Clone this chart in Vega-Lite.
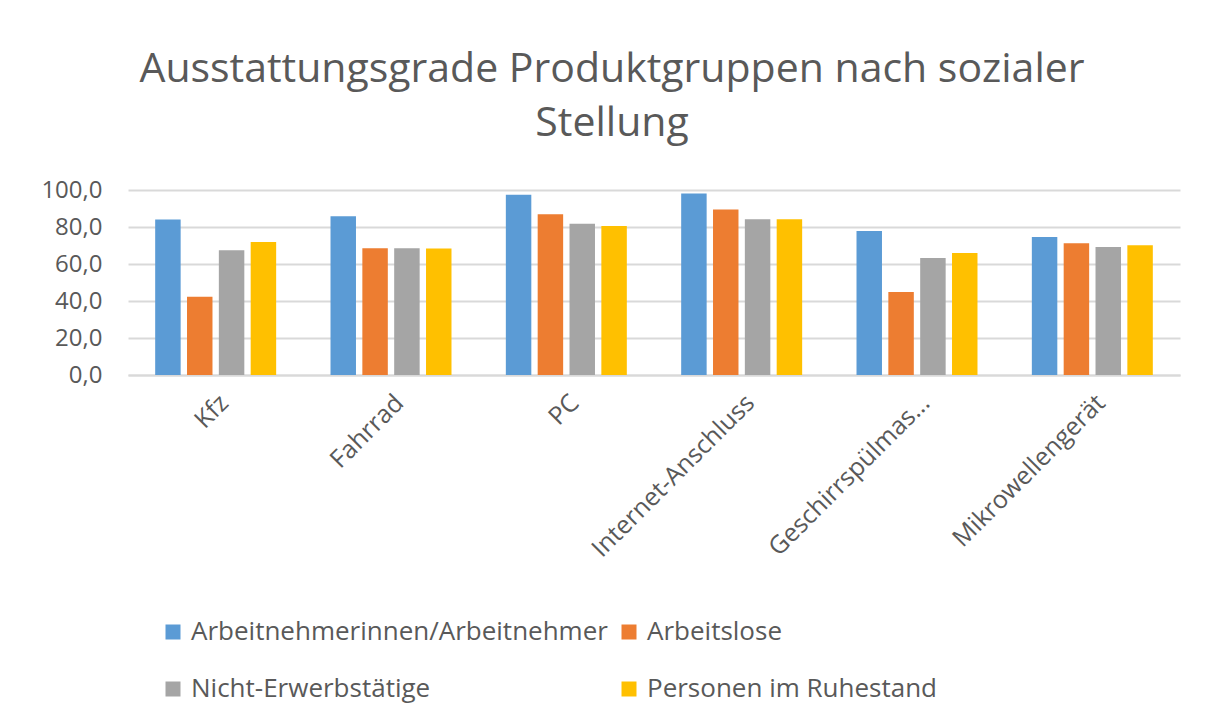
{
  "$schema": "https://vega.github.io/schema/vega-lite/v6.json",
  "width": 1052,
  "height": 185,
  "autosize": {"type": "none"},
  "padding": {"left": 128, "top": 190, "right": 28, "bottom": 351},
  "background": "white",
  "config": {
    "locale": {"number": {"decimal": ",", "thousands": ".", "grouping": [3], "currency": ["", " €"]}},
    "font": "Open Sans",
    "view": {"stroke": null}
  },
  "title": {
    "text": ["Ausstattungsgrade Produktgruppen nach sozialer", "Stellung"],
    "fontSize": 41,
    "fontWeight": "normal",
    "color": "#595959",
    "anchor": "middle",
    "dx": -42,
    "offset": 33,
    "lineHeight": 54,
    "font": "Open Sans"
  },
  "data": {
    "values": [
      {"Produkt": "Kfz", "Gruppe": "Arbeitnehmerinnen/Arbeitnehmer", "Wert": 84.0},
      {"Produkt": "Kfz", "Gruppe": "Arbeitslose", "Wert": 42.3},
      {"Produkt": "Kfz", "Gruppe": "Nicht-Erwerbstätige", "Wert": 67.4},
      {"Produkt": "Kfz", "Gruppe": "Personen im Ruhestand", "Wert": 71.9},
      {"Produkt": "Fahrrad", "Gruppe": "Arbeitnehmerinnen/Arbeitnehmer", "Wert": 85.8},
      {"Produkt": "Fahrrad", "Gruppe": "Arbeitslose", "Wert": 68.5},
      {"Produkt": "Fahrrad", "Gruppe": "Nicht-Erwerbstätige", "Wert": 68.5},
      {"Produkt": "Fahrrad", "Gruppe": "Personen im Ruhestand", "Wert": 68.4},
      {"Produkt": "PC", "Gruppe": "Arbeitnehmerinnen/Arbeitnehmer", "Wert": 97.4},
      {"Produkt": "PC", "Gruppe": "Arbeitslose", "Wert": 86.9},
      {"Produkt": "PC", "Gruppe": "Nicht-Erwerbstätige", "Wert": 81.7},
      {"Produkt": "PC", "Gruppe": "Personen im Ruhestand", "Wert": 80.6},
      {"Produkt": "Internet-Anschluss", "Gruppe": "Arbeitnehmerinnen/Arbeitnehmer", "Wert": 98.1},
      {"Produkt": "Internet-Anschluss", "Gruppe": "Arbeitslose", "Wert": 89.4},
      {"Produkt": "Internet-Anschluss", "Gruppe": "Nicht-Erwerbstätige", "Wert": 84.2},
      {"Produkt": "Internet-Anschluss", "Gruppe": "Personen im Ruhestand", "Wert": 84.2},
      {"Produkt": "Geschirrspülmaschine", "Gruppe": "Arbeitnehmerinnen/Arbeitnehmer", "Wert": 77.9},
      {"Produkt": "Geschirrspülmaschine", "Gruppe": "Arbeitslose", "Wert": 44.8},
      {"Produkt": "Geschirrspülmaschine", "Gruppe": "Nicht-Erwerbstätige", "Wert": 63.2},
      {"Produkt": "Geschirrspülmaschine", "Gruppe": "Personen im Ruhestand", "Wert": 66.0},
      {"Produkt": "Mikrowellengerät", "Gruppe": "Arbeitnehmerinnen/Arbeitnehmer", "Wert": 74.6},
      {"Produkt": "Mikrowellengerät", "Gruppe": "Arbeitslose", "Wert": 71.2},
      {"Produkt": "Mikrowellengerät", "Gruppe": "Nicht-Erwerbstätige", "Wert": 69.2},
      {"Produkt": "Mikrowellengerät", "Gruppe": "Personen im Ruhestand", "Wert": 70.1}
    ]
  },
  "mark": {"type": "bar"},
  "encoding": {
    "x": {
      "field": "Produkt",
      "type": "nominal",
      "sort": null,
      "scale": {"paddingInner": 0.31, "paddingOuter": 0.155},
      "axis": {
        "title": null,
        "labelAngle": -45,
        "labelFontSize": 25,
        "labelColor": "#595959",
        "labelLimit": 300,
        "labelPadding": 15,
        "labelExpr": "datum.label == 'Geschirrspülmaschine' ? 'Geschirrspülmas...' : datum.label",
        "ticks": false,
        "domainColor": "#D9D9D9",
        "domainWidth": 2,
        "grid": false
      }
    },
    "xOffset": {
      "field": "Gruppe",
      "type": "nominal",
      "sort": null,
      "scale": {"paddingInner": 0.2, "paddingOuter": 0}
    },
    "y": {
      "field": "Wert",
      "type": "quantitative",
      "scale": {"domain": [0, 100], "nice": false},
      "axis": {
        "title": null,
        "values": [0, 20, 40, 60, 80, 100],
        "format": ".1f",
        "labelFontSize": 24,
        "labelColor": "#595959",
        "labelPadding": 26,
        "ticks": false,
        "domain": false,
        "gridColor": "#D9D9D9",
        "gridWidth": 2
      }
    },
    "color": {
      "field": "Gruppe",
      "type": "nominal",
      "sort": null,
      "scale": {
        "domain": ["Arbeitnehmerinnen/Arbeitnehmer", "Arbeitslose", "Nicht-Erwerbstätige", "Personen im Ruhestand"],
        "range": ["#5B9BD5", "#ED7D31", "#A5A5A5", "#FFC000"]
      },
      "legend": {
        "title": null,
        "orient": "none",
        "direction": "horizontal",
        "legendX": 32,
        "legendY": 429,
        "columns": 2,
        "columnPadding": 8,
        "rowPadding": 31,
        "symbolType": "square",
        "symbolSize": 225,
        "symbolStrokeWidth": 0,
        "labelFontSize": 26,
        "labelColor": "#595959",
        "labelLimit": 600,
        "labelOffset": 5
      }
    }
  }
}
